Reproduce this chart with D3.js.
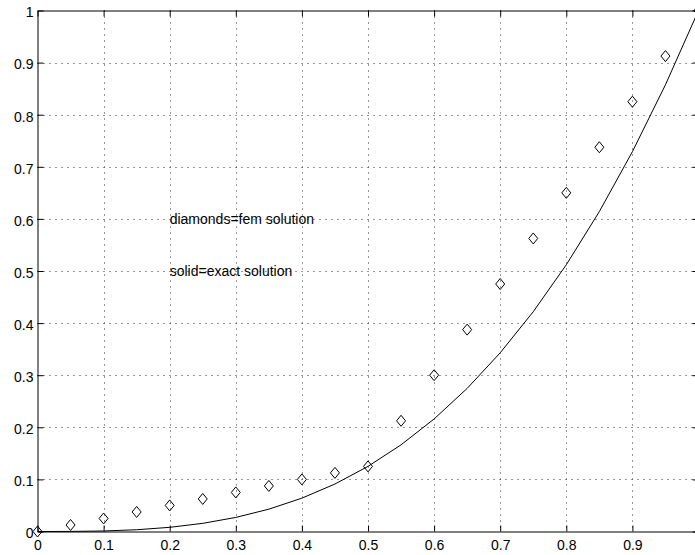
<!DOCTYPE html>
<html>
<head>
<meta charset="utf-8">
<script src="https://cdn.jsdelivr.net/npm/d3@7"></script>
<style>
  body { margin: 0; background: #fff; }
  svg { display: block; }
  text { font-family: "Liberation Sans", Arial, sans-serif; fill: #000; }
</style>
</head>
<body>
<svg id="chart" width="695" height="555"></svg>
<script>
// x positions of the nodes
const xNodes = [0, 0.05, 0.1, 0.15, 0.2, 0.25, 0.3, 0.35, 0.4, 0.45, 0.5,
  0.55, 0.6, 0.65, 0.7, 0.75, 0.8, 0.85, 0.9, 0.95, 1.0];
// fem solution (diamonds)
const femValues = [0, 0.0125, 0.025, 0.0375, 0.05, 0.0625, 0.075, 0.0875, 0.1, 0.1125, 0.125,
  0.2125, 0.3, 0.3875, 0.475, 0.5625, 0.65, 0.7375, 0.825, 0.9125, 1.0];
// exact solution (solid line)
const exactValues = [0, 0.000125, 0.001, 0.003375, 0.008, 0.015625, 0.027, 0.042875, 0.064, 0.091125, 0.125,
  0.166375, 0.216, 0.274625, 0.343, 0.421875, 0.512, 0.614125, 0.729, 0.857375, 1.0];
const xTicks = [0, 0.1, 0.2, 0.3, 0.4, 0.5, 0.6, 0.7, 0.8, 0.9, 1];
// the label of x = 1 falls outside the window in the reference
const xTickLabels = ['0', '0.1', '0.2', '0.3', '0.4', '0.5', '0.6', '0.7', '0.8', '0.9', ''];
const yTicks = [0, 0.1, 0.2, 0.3, 0.4, 0.5, 0.6, 0.7, 0.8, 0.9, 1];
const yTickLabels = ['0', '0.1', '0.2', '0.3', '0.4', '0.5', '0.6', '0.7', '0.8', '0.9', '1'];
const notes = [
  { x: 0.2, y: 0.6, label: 'diamonds=fem solution' },
  { x: 0.2, y: 0.5, label: 'solid=exact solution' },
];

const plotLeft = 37.5;
const plotRight = 698.5;
const plotTop = 10.5;
const plotBottom = 531.5;
const tickLen = 6;

const svg = d3.select('#chart');

const x = d3.scaleLinear().domain([0, 1]).range([plotLeft, plotRight]);
const y = d3.scaleLinear().domain([0, 1]).range([plotBottom, plotTop]);

// dotted grid
const grid = svg.append('g')
  .attr('stroke', '#333')
  .attr('stroke-width', 1)
  .attr('stroke-dasharray', '1,5');

grid.selectAll('.vgrid')
  .data(xTicks.slice(1, -1))
  .enter()
  .append('line')
  .attr('x1', (d) => Math.round(x(d)) + 0.5)
  .attr('x2', (d) => Math.round(x(d)) + 0.5)
  .attr('y1', plotTop)
  .attr('y2', plotBottom);

grid.selectAll('.hgrid')
  .data(yTicks.slice(1, -1))
  .enter()
  .append('line')
  .attr('y1', (d) => Math.round(y(d)) + 0.5)
  .attr('y2', (d) => Math.round(y(d)) + 0.5)
  .attr('x1', plotLeft)
  .attr('x2', plotRight);

// axes: bottom/left with labels, top/right mirrored, ticks pointing inward
const xAxis = svg.append('g')
  .attr('transform', `translate(0, ${plotBottom})`)
  .call(d3.axisBottom(x).tickValues(xTicks).tickSizeInner(-tickLen).tickSizeOuter(0)
    .tickPadding(9).tickFormat((d, i) => xTickLabels[i]));

const yAxis = svg.append('g')
  .attr('transform', `translate(${plotLeft}, 0)`)
  .call(d3.axisLeft(y).tickValues(yTicks).tickSizeInner(-tickLen).tickSizeOuter(0)
    .tickPadding(4).tickFormat((d, i) => yTickLabels[i]));
yAxis.selectAll('.tick text').attr('dy', '0.45em');

svg.append('g')
  .attr('transform', `translate(0, ${plotTop})`)
  .call(d3.axisTop(x).tickValues(xTicks).tickSizeInner(-tickLen).tickSizeOuter(0).tickFormat(''));

svg.append('g')
  .attr('transform', `translate(${plotRight}, 0)`)
  .call(d3.axisRight(y).tickValues(yTicks).tickSizeInner(-tickLen).tickSizeOuter(0).tickFormat(''));

svg.selectAll('.domain').attr('stroke', '#000').attr('stroke-width', 1);
svg.selectAll('.tick line').attr('stroke', '#000');
svg.selectAll('.tick text')
  .style('font-family', '"Liberation Sans", Arial, sans-serif')
  .style('font-size', '14px');

// exact solution
svg.append('path')
  .datum(xNodes.map((d, i) => [d, exactValues[i]]))
  .attr('fill', 'none')
  .attr('stroke', '#000')
  .attr('stroke-width', 1)
  .attr('d', d3.line().x((d) => x(d[0])).y((d) => y(d[1])));

// fem solution diamonds
svg.append('g')
  .selectAll('path')
  .data(xNodes.map((d, i) => [d, femValues[i]]))
  .enter()
  .append('path')
  .attr('fill', 'none')
  .attr('stroke', '#000')
  .attr('stroke-width', 1)
  .attr('d', (d) => {
    const cx = x(d[0]);
    const cy = y(d[1]);
    return `M${cx},${cy - 5.5}L${cx + 4.5},${cy}L${cx},${cy + 5.5}L${cx - 4.5},${cy}Z`;
  });

// annotations
svg.append('g')
  .selectAll('text')
  .data(notes)
  .enter()
  .append('text')
  .attr('x', (d) => x(d.x))
  .attr('y', (d) => y(d.y))
  .attr('dy', '0.35em')
  .style('font-size', '14px')
  .text((d) => d.label);
</script>
</body>
</html>
